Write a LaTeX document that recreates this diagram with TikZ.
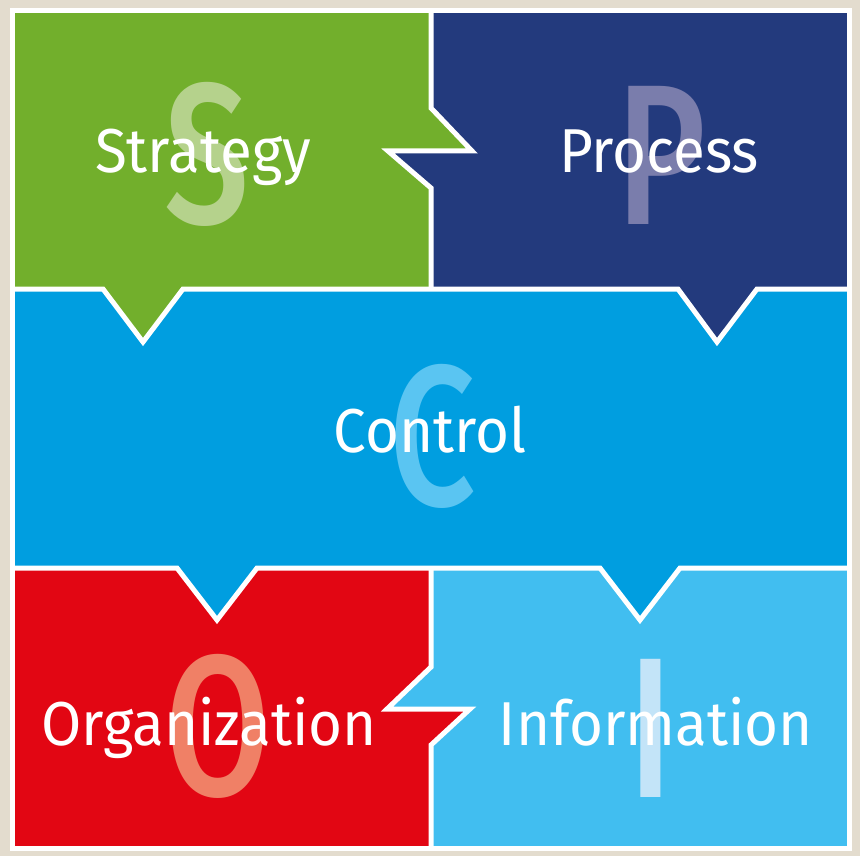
\documentclass[tikz,border=0pt]{standalone}
\usepackage{fontspec}
\setmainfont{Fira Sans}
\newfontfamily\grossa{Fira Sans Medium}
\usepackage{tikz}

\definecolor{fundo}{RGB}{227,220,206}
\definecolor{verde}{RGB}{114,175,44}
\definecolor{marinho}{RGB}{35,58,125}
\definecolor{azul}{RGB}{0,158,224}
\definecolor{vermelho}{RGB}{226,6,19}
\definecolor{celeste}{RGB}{65,190,240}

\begin{document}
\begin{tikzpicture}[x=1pt,y=-1pt,
    palavra/.style={text=white,font=\fontsize{62}{62}\selectfont,anchor=base,inner sep=0pt,xscale=0.94},
    letra/.style={font=\grossa\fontsize{200}{200}\selectfont,anchor=base,inner sep=0pt,xscale=0.76},
    divisa/.style={white,line width=5pt}]
    % Fundo
    \useasboundingbox[fill=fundo] (0,0) rectangle (860,856);
    % Organizacao e informacao
    \fill[vermelho] (15,568) -- (431,568) -- (431,667) -- (387,709) -- (470,709) -- (431,745)
        -- (431,846) -- (15,846) -- cycle;
    \fill[celeste] (431,568) -- (847,568) -- (847,846) -- (431,846) -- (431,745) -- (470,709)
        -- (387,709) -- (431,667) -- cycle;
    % Controle
    \fill[azul] (15,289) -- (847,289) -- (847,568) -- (680,568) -- (640,620) -- (600,568)
        -- (257,568) -- (217,620) -- (177,568) -- (15,568) -- cycle;
    % Estrategia e processo
    \fill[verde] (15,13) -- (431,13) -- (431,108) -- (472,151) -- (388,151) -- (431,188)
        -- (431,289) -- (183,289) -- (143,342) -- (103,289) -- (15,289) -- cycle;
    \fill[marinho] (431,13) -- (847,13) -- (847,289) -- (757,289) -- (717,342) -- (678,289)
        -- (431,289) -- (431,188) -- (388,151) -- (472,151) -- (431,108) -- cycle;
    % Letras grandes
    \node[letra,text={rgb,255:red,181;green,210;blue,140}] (letraS) at (207,223) {S};
    \node[letra,text={rgb,255:red,122;green,125;blue,172}] (letraP) at (661,225) {P};
    \node[letra,text={rgb,255:red,90;green,197;blue,242}] (letraC) at (433,505) {C};
    \node[letra,text={rgb,255:red,240;green,128;blue,102}] (letraO) at (218,795) {O};
    \node[letra,text={rgb,255:red,195;green,228;blue,248}] (letraI) at (651,797) {I};
    % Palavras
    \node[palavra] (strategy) at (203,173) {Strategy};
    \node[palavra] (process) at (659,172) {Process};
    \node[palavra] (control) at (430,452) {Control};
    \node[palavra] (organization) at (209,745) {Organization};
    \node[palavra] (information) at (656,745) {Information};
    % Divisas
    \draw[divisa] (431,13) -- (431,108) -- (472,151) -- (388,151) -- (431,188) -- (431,289);
    \draw[divisa] (15,289) -- (103,289) -- (143,342) -- (183,289) -- (678,289) -- (717,342)
        -- (757,289) -- (847,289);
    \draw[divisa] (15,568) -- (177,568) -- (217,620) -- (257,568) -- (600,568) -- (640,620)
        -- (680,568) -- (847,568);
    \draw[divisa] (431,568) -- (431,667) -- (387,709) -- (470,709) -- (431,745) -- (431,846);
    \draw[divisa] (12.5,10.5) rectangle (849.5,848.5);
\end{tikzpicture}
\end{document}
